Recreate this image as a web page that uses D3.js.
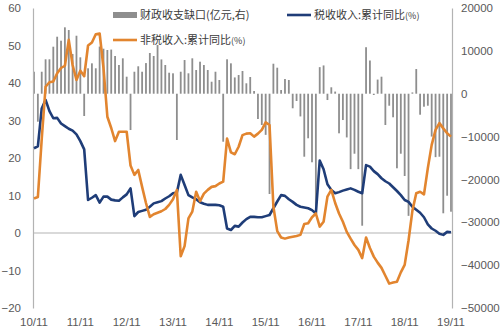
<!DOCTYPE html>
<html>
<head>
<meta charset="utf-8">
<script src="https://cdn.jsdelivr.net/npm/d3@7"></script>
<style>
html,body{margin:0;padding:0;background:#fff;}
svg{display:block;}
</style>
</head>
<body>
<svg id="chart" width="500" height="333"></svg>
<script>
// ---------- DATA ----------
const startYear = 2010, startMonth = 11, monthCount = 109;
const months = [];
for (let k = 0; k < monthCount; k++) {
  const m = (startMonth - 1 + k) % 12 + 1;
  const y = startYear + Math.floor((startMonth - 1 + k) / 12);
  months.push(y + "-" + String(m).padStart(2, "0"));
}
const tickMonths = ["2010-11","2011-11","2012-11","2013-11","2014-11","2015-11","2016-11","2017-11","2018-11","2019-11"];
const tickLabels = ["10/11","11/11","12/11","13/11","14/11","15/11","16/11","17/11","18/11","19/11"];
const leftTicks = [-20,-10,0,10,20,30,40,50,60];
const rightTicks = [-50000,-40000,-30000,-20000,-10000,0,10000,20000];

const seriesNames = ["财政收支缺口(亿元,右)", "税收收入:累计同比", "非税收入:累计同比"];
const seriesUnits = ["", "(%)", "(%)"];

// 财政收支缺口 (亿元, right axis)
const fiscalGap = [
  5130,-6530,5130,8030,8030,10970,13300,12370,15490,14860,9260,13530,8490,-5200,
  5930,7090,5930,11000,10500,10200,10300,8800,6700,8260,3970,-8470,
  5130,6400,5130,7150,9500,8800,11360,8000,6700,4900,4760,-10800,
  5130,7860,4760,8260,5530,7470,6700,5530,2800,5130,3200,-11200,
  8030,7090,3800,4360,5300,2430,3900,630,-5900,-7300,-9600,-23400,
  7000,6070,860,3430,3200,-3400,-1700,-5300,-14700,-10400,-16000,-27300,
  6200,6600,-1470,1500,500,-9240,-6140,-10200,-17600,-14000,-17600,-30800,
  10850,7750,-300,3300,3970,-7300,-2800,-5500,-17400,-14000,-19200,-28500,
  300,5760,-4900,-3030,-2800,-10000,-14800,-14700,-27900,-23800,-27530
];
// 税收收入:累计同比 (%)
const taxYoY = [
  22.6,23.1,33.2,35.5,32.5,30.6,30.7,29.2,28.5,27.8,27.3,26.3,24.5,22.3,
  8.8,9.4,10.1,8.1,9.7,9.7,8.9,8.7,8.6,9.5,10.3,11.9,
  4.5,5.6,5.9,6.2,7.0,7.9,8.2,8.5,9.2,9.8,10.6,10.8,
  15.5,12.8,10.1,9.5,9.0,8.2,7.8,7.5,7.5,7.5,7.4,7.0,
  1.2,0.8,1.9,1.7,2.8,3.7,4.3,4.3,4.2,4.2,4.5,4.8,
  6.6,8.4,10.1,9.9,9.0,8.3,7.5,7.0,6.8,6.6,6.1,5.2,
  19.3,17.0,13.0,11.5,10.6,10.9,11.3,11.6,11.9,11.5,11.0,10.6,
  18.1,17.7,16.5,15.7,14.6,13.8,13.2,12.2,11.2,10.1,8.8,8.3,
  7.0,6.2,5.4,4.2,2.3,1.2,0.6,-0.2,-0.5,0.3,0.2
];
// 非税收入:累计同比 (%)
const nonTaxYoY = [
  9.2,9.6,25.0,39.0,40.2,40.4,42.6,44.0,44.6,51.5,44.8,40.8,43.3,41.8,
  50.0,50.8,53.0,53.2,44.0,31.0,28.0,24.5,27.0,27.0,27.0,18.0,
  15.5,16.8,12.3,8.0,4.3,5.0,5.4,5.8,6.4,7.5,9.0,11.5,
  -6.2,-3.5,3.9,5.7,11.0,8.5,10.5,11.5,12.3,12.5,13.2,13.7,
  25.2,21.5,21.0,23.0,26.1,26.5,26.6,25.7,26.5,27.5,29.5,28.8,
  7.0,0.5,-1.2,-1.5,-1.2,-1.0,-0.8,-0.5,2.4,2.6,4.2,5.2,
  1.7,3.0,9.7,11.5,8.0,5.2,3.0,0.3,-1.5,-3.2,-4.5,-6.7,
  -1.2,-4.0,-6.3,-7.9,-9.3,-11.4,-13.5,-13.2,-13.0,-10.5,-8.5,-2.0,
  5.9,10.6,11.0,10.3,17.3,23.5,27.5,29.3,27.9,26.6,25.7
];

// ---------- CHART ----------
const svg = d3.select("#chart");
const colors = { bar: "#8e8e8e", tax: "#1f3d78", nonTax: "#e2852f", axis: "#b3b3b3", text: "#595959" };

const x = d3.scalePoint().domain(months).range([34, 451]);
const yL = d3.scaleLinear().domain([-20, 60]).range([308, 8]);
const yR = d3.scaleLinear().domain([-50000, 20000]).range([308, 8]);

// bars
svg.append("g").selectAll("rect").data(fiscalGap).join("rect")
  .attr("x", (d, i) => x(months[i]) - 0.9)
  .attr("width", 1.8)
  .attr("y", d => Math.min(yR(d), yR(0)))
  .attr("height", d => Math.abs(yR(d) - yR(0)))
  .attr("fill", colors.bar);

// left axis
const gL = svg.append("g").attr("transform", "translate(33,0)")
  .call(d3.axisLeft(yL).tickValues(leftTicks).tickSize(0).tickPadding(12));
gL.select(".domain").attr("stroke", colors.axis).attr("stroke-width", 1.2);
gL.selectAll("text").attr("font-family", "Liberation Sans, Arial, sans-serif")
  .attr("font-size", 11.5).attr("fill", colors.text);

// right axis
const gR = svg.append("g").attr("transform", "translate(452,0)")
  .call(d3.axisRight(yR).tickValues(rightTicks).tickSize(0).tickPadding(9).tickFormat(d3.format("d")));
gR.select(".domain").attr("stroke", colors.axis).attr("stroke-width", 1.2);
gR.selectAll("text").attr("font-family", "Liberation Sans, Arial, sans-serif")
  .attr("font-size", 11.5).attr("fill", colors.text);

// zero line
svg.append("line")
  .attr("x1", 33).attr("x2", 452)
  .attr("y1", yL(0)).attr("y2", yL(0))
  .attr("stroke", colors.axis).attr("stroke-width", 1.2);

// x labels
svg.append("g").selectAll("text").data(tickMonths).join("text")
  .attr("x", d => x(d))
  .attr("y", 326)
  .attr("text-anchor", "middle")
  .attr("font-family", "Liberation Sans, Arial, sans-serif")
  .attr("font-size", 11.5)
  .attr("fill", colors.text)
  .text((d, i) => tickLabels[i]);

// lines
const lineL = d3.line().x((d, i) => x(months[i])).y(d => yL(d));
svg.append("path").datum(taxYoY).attr("d", lineL)
  .attr("fill", "none").attr("stroke", colors.tax).attr("stroke-width", 2.6)
  .attr("stroke-linejoin", "round");
svg.append("path").datum(nonTaxYoY).attr("d", lineL)
  .attr("fill", "none").attr("stroke", colors.nonTax).attr("stroke-width", 2.6)
  .attr("stroke-linejoin", "round");

// legend
const legend = svg.append("g").attr("font-family", "Noto Sans CJK SC, sans-serif")
  .attr("font-size", 11).attr("fill", "#3a3a3a");
const legItems = [
  { i: 0, type: "bar", color: colors.bar, x: 113, y: 15 },
  { i: 1, type: "line", color: colors.tax, x: 287, y: 15 },
  { i: 2, type: "line", color: colors.nonTax, x: 113, y: 40 }
];
legItems.forEach(it => {
  if (it.type === "bar") {
    legend.append("rect").attr("x", it.x).attr("y", it.y - 3).attr("width", 24).attr("height", 6).attr("fill", it.color);
  } else {
    legend.append("line").attr("x1", it.x).attr("x2", it.x + 24).attr("y1", it.y).attr("y2", it.y)
      .attr("stroke", it.color).attr("stroke-width", 2.6);
  }
  const t = legend.append("text").attr("x", it.x + 27).attr("y", it.y).attr("dy", "0.36em");
  t.append("tspan").text(seriesNames[it.i]);
  if (seriesUnits[it.i]) t.append("tspan").attr("font-size", 9).text(seriesUnits[it.i]);
});
</script>
</body>
</html>
